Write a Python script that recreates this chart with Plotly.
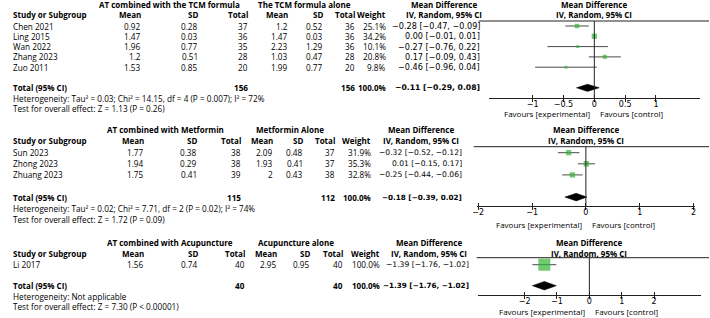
import math
import plotly.graph_objects as go

# ---------------- DATA ----------------
# Panel 1: AT + TCM formula vs TCM formula alone
p1_exp_label = "AT combined with the TCM formula"
p1_ctl_label = "The TCM formula alone"
p1_studies = ["Chen 2021", "Ling 2015", "Wan 2022", "Zhang 2023", "Zuo 2011"]
p1_exp_mean = [0.92, 1.47, 1.96, 1.2, 1.53]
p1_exp_sd = [0.28, 0.03, 0.77, 0.51, 0.85]
p1_exp_n = [37, 36, 35, 28, 20]
p1_ctl_mean = [1.2, 1.47, 2.23, 1.03, 1.99]
p1_ctl_sd = [0.52, 0.03, 1.29, 0.47, 0.77]
p1_ctl_n = [36, 36, 36, 28, 20]
p1_weight = [25.1, 34.2, 10.1, 20.8, 9.8]
p1_md = [-0.28, 0.00, -0.27, 0.17, -0.46]
p1_lo = [-0.47, -0.01, -0.76, -0.09, -0.96]
p1_hi = [-0.09, 0.01, 0.22, 0.43, 0.04]
p1_total_n = [156, 156]
p1_total_md = [-0.11, -0.29, 0.08]
p1_het = "Heterogeneity: Tau² = 0.03; Chi² = 14.15, df = 4 (P = 0.007); I² = 72%"
p1_test = "Test for overall effect: Z = 1.13 (P = 0.26)"
p1_ticks = [-1, -0.5, 0, 0.5, 1]

# Panel 2: AT + Metformin vs Metformin alone
p2_exp_label = "AT combined with Metformin"
p2_ctl_label = "Metformin Alone"
p2_studies = ["Sun 2023", "Zhong 2023", "Zhuang 2023"]
p2_exp_mean = [1.77, 1.94, 1.75]
p2_exp_sd = [0.38, 0.29, 0.41]
p2_exp_n = [38, 38, 39]
p2_ctl_mean = [2.09, 1.93, 2]
p2_ctl_sd = [0.48, 0.41, 0.43]
p2_ctl_n = [37, 37, 38]
p2_weight = [31.9, 35.3, 32.8]
p2_md = [-0.32, 0.01, -0.25]
p2_lo = [-0.52, -0.15, -0.44]
p2_hi = [-0.12, 0.17, -0.06]
p2_total_n = [115, 112]
p2_total_md = [-0.18, -0.39, 0.02]
p2_het = "Heterogeneity: Tau² = 0.02; Chi² = 7.71, df = 2 (P = 0.02); I² = 74%"
p2_test = "Test for overall effect: Z = 1.72 (P = 0.09)"
p2_ticks = [-2, -1, 0, 1, 2]

# Panel 3: AT + Acupuncture vs Acupuncture alone
p3_exp_label = "AT combined with Acupuncture"
p3_ctl_label = "Acupuncture alone"
p3_studies = ["Li 2017"]
p3_exp_mean = [1.56]
p3_exp_sd = [0.74]
p3_exp_n = [40]
p3_ctl_mean = [2.95]
p3_ctl_sd = [0.95]
p3_ctl_n = [40]
p3_weight = [100.0]
p3_md = [-1.39]
p3_lo = [-1.76]
p3_hi = [-1.02]
p3_total_n = [40, 40]
p3_total_md = [-1.39, -1.76, -1.02]
p3_het = "Heterogeneity: Not applicable"
p3_test = "Test for overall effect: Z = 7.30 (P < 0.00001)"
p3_ticks = [-2, -1, 0, 1, 2]

panels = [
    dict(exp_label=p1_exp_label, ctl_label=p1_ctl_label, studies=p1_studies,
         em=p1_exp_mean, es=p1_exp_sd, en=p1_exp_n, cm=p1_ctl_mean, cs=p1_ctl_sd, cn=p1_ctl_n,
         w=p1_weight, md=p1_md, lo=p1_lo, hi=p1_hi, tn=p1_total_n, tmd=p1_total_md,
         het=p1_het, test=p1_test, ticks=p1_ticks),
    dict(exp_label=p2_exp_label, ctl_label=p2_ctl_label, studies=p2_studies,
         em=p2_exp_mean, es=p2_exp_sd, en=p2_exp_n, cm=p2_ctl_mean, cs=p2_ctl_sd, cn=p2_ctl_n,
         w=p2_weight, md=p2_md, lo=p2_lo, hi=p2_hi, tn=p2_total_n, tmd=p2_total_md,
         het=p2_het, test=p2_test, ticks=p2_ticks),
    dict(exp_label=p3_exp_label, ctl_label=p3_ctl_label, studies=p3_studies,
         em=p3_exp_mean, es=p3_exp_sd, en=p3_exp_n, cm=p3_ctl_mean, cs=p3_ctl_sd, cn=p3_ctl_n,
         w=p3_weight, md=p3_md, lo=p3_lo, hi=p3_hi, tn=p3_total_n, tmd=p3_total_md,
         het=p3_het, test=p3_test, ticks=p3_ticks),
]

# ---------------- LAYOUT / STYLE ----------------
W, H = 710, 318
TFONT = "Open Sans"      # words and short numbers
NFONT = "DejaVu Sans"    # effect-size column (wide figures)
TFS = 8.2
BFS = 8.0
TXT = "#000000"
GREEN = "#33b533"

geoms = [
    dict(row0=26.0, dy=10.3, top=0, bot=119, axis_px=98, fav_px=114, line_px=21,
         xl=488, xr=701, half=1.715, line_x0=478,
         cols=[140, 197, 248, 288, 323, 355, 387, 481], ci_fs=8.1,
         hdr_exp=167, hdr_ctl=303, hdr_md=443, k=0.9, dh=3.6),
    dict(row0=152.7, dy=11.1, top=119, bot=230, axis_px=206, fav_px=225, line_px=146.7,
         xl=476, xr=696, half=2.03, line_x0=473,
         cols=[143, 196, 241, 273, 303, 335, 372, 463], ci_fs=7.6,
         hdr_exp=163, hdr_ctl=288, hdr_md=420, k=0.93, dh=3.8),
    dict(row0=264.7, dy=10.5, top=230, bot=318, axis_px=295.3, fav_px=311.3, line_px=257.7,
         xl=477, xr=702, half=3.45, line_x0=476,
         cols=[143, 197, 245, 277, 310, 343, 381, 470], ci_fs=7.6,
         hdr_exp=167, hdr_ctl=294, hdr_md=428, k=1.2, dh=4.3),
]


def num(v):
    return f"{v:g}"


def signed(v):
    s = f"{abs(v):.2f}"
    return ("\u2212" + s) if v < 0 else s


def ci_text(md, lo, hi):
    return f"{signed(md)} [{signed(lo)}, {signed(hi)}]"


fig = go.Figure()
annotations = []
shapes = []
layout_axes = {}


def ann(x, y, text, xanchor="left", xref="paper", yref="paper", bold=False,
        size=None, family=None, xshift=0):
    if bold:
        text = f"<b>{text}</b>"
    if size is None:
        size = BFS if bold else TFS
    annotations.append(dict(x=x, y=y, xref=xref, yref=yref, text=text, showarrow=False,
                            xanchor=xanchor, yanchor="middle", xshift=xshift,
                            font=dict(family=family or TFONT, size=size, color=TXT)))


for i, (p, g) in enumerate(zip(panels, geoms)):
    s = "" if i == 0 else str(i + 1)
    xa, ya = "x" + s, "y" + s
    row0, dy = g["row0"], g["dy"]

    def r(px):
        return (px - row0) / dy

    n = len(p["studies"])
    rows = list(range(n))
    total_row = n + 1
    het_row = n + 2
    test_row = n + 3
    h1, h2 = -2.1, -1.1
    c = g["cols"]

    # header texts
    ann(7 / W, h2, "Study or Subgroup", "left", yref=ya, bold=True)
    ann(g["hdr_exp"] / W, h1, p["exp_label"], "center", yref=ya, bold=True)
    ann(g["hdr_ctl"] / W, h1, p["ctl_label"], "center", yref=ya, bold=True)
    for cx, lab in zip(c[:7], ["Mean", "SD", "Total", "Mean", "SD", "Total", "Weight"]):
        ann(cx / W, h2, lab, "right", yref=ya, bold=True)
    ann(g["hdr_md"] / W, h1, "Mean Difference", "center", yref=ya, bold=True)
    ann(g["hdr_md"] / W, h2, "IV, Random, 95% CI", "center", yref=ya, bold=True)
    pc = (g["xl"] + g["xr"]) / 2 / W
    ann(pc, h1, "Mean Difference", "center", yref=ya, bold=True)
    ann(pc, h2, "IV, Random, 95% CI", "center", yref=ya, bold=True)

    # study rows
    for j in rows:
        ann(7 / W, j, p["studies"][j], "left", yref=ya)
        vals = [num(p["em"][j]), num(p["es"][j]), str(p["en"][j]),
                num(p["cm"][j]), num(p["cs"][j]), str(p["cn"][j]),
                f"{p['w'][j]:.1f}%"]
        for cx, v in zip(c[:7], vals):
            ann(cx / W, j, v, "right", yref=ya)
        ann(c[7] / W, j, ci_text(p["md"][j], p["lo"][j], p["hi"][j]), "right", yref=ya,
            size=g["ci_fs"], family=NFONT)

    # total row
    ann(7 / W, total_row, "Total (95% CI)", "left", yref=ya, bold=True)
    ann(c[2] / W, total_row, str(p["tn"][0]), "right", yref=ya, bold=True, size=8.2)
    ann(c[5] / W, total_row, str(p["tn"][1]), "right", yref=ya, bold=True, size=8.2)
    ann(c[6] / W, total_row, f"{sum(p['w']):.1f}%", "right", yref=ya, bold=True, size=8.0)
    ann(c[7] / W, total_row, ci_text(*p["tmd"]), "right", yref=ya, bold=True,
        size=g["ci_fs"] * 0.95, family=NFONT)
    ann(7 / W, het_row, p["het"], "left", yref=ya)
    ann(7 / W, test_row, p["test"], "left", yref=ya)

    # favours labels
    fy = 1 - g["fav_px"] / H
    ann(0, fy, "Favours [experimental]", "right", xref=xa, xshift=-2, size=8.0)
    ann(0, fy, "Favours [control]", "left", xref=xa, xshift=4, size=8.0)

    # study estimates with CI
    fig.add_trace(go.Scatter(
        x=p["md"], y=rows, xaxis=xa, yaxis=ya, mode="markers",
        marker=dict(symbol="square", color=GREEN,
                    size=[g["k"] * math.sqrt(w) for w in p["w"]], line=dict(width=0)),
        error_x=dict(type="data", symmetric=False,
                     array=[hi - m for hi, m in zip(p["hi"], p["md"])],
                     arrayminus=[m - lo for m, lo in zip(p["md"], p["lo"])],
                     width=0, thickness=1, color="#4a4a4a"),
        showlegend=False, hoverinfo="skip", cliponaxis=False))

    # pooled diamond
    tmd, tlo, thi = p["tmd"]
    hh = g["dh"] / dy
    fig.add_trace(go.Scatter(
        x=[tlo, tmd, thi, tmd, tlo],
        y=[total_row, total_row - hh, total_row, total_row + hh, total_row],
        xaxis=xa, yaxis=ya, mode="lines", fill="toself", fillcolor="black",
        line=dict(color="black", width=0.5), showlegend=False, hoverinfo="skip"))

    # twin axis for upward ticks
    tw = "x" + str(4 + i)
    fig.add_trace(go.Scatter(x=[None], y=[None], xaxis=tw, yaxis=ya, showlegend=False,
                             hoverinfo="skip"))

    # header rule and zero line
    shapes.append(dict(type="line", xref="paper", yref=ya, x0=g["line_x0"] / W, x1=1,
                       y0=r(g["line_px"]), y1=r(g["line_px"]),
                       line=dict(color="#222", width=1)))
    shapes.append(dict(type="line", xref=xa, yref=ya, x0=0, x1=0,
                       y0=r(g["line_px"]), y1=r(g["axis_px"]),
                       line=dict(color="#222", width=1)))

    pos = 1 - g["axis_px"] / H
    key = "xaxis" if i == 0 else f"xaxis{i + 1}"
    layout_axes[key] = dict(
        domain=[g["xl"] / W, g["xr"] / W], range=[-g["half"], g["half"]],
        anchor="free", position=pos, showline=True, linecolor="#222", linewidth=1,
        ticks="outside", ticklen=3, tickwidth=1, tickcolor="#222",
        tickmode="array", tickvals=p["ticks"], ticklabelstandoff=-5,
        tickfont=dict(family=NFONT, size=8.0, color=TXT),
        showgrid=False, zeroline=False, fixedrange=True)
    layout_axes[f"xaxis{4 + i}"] = dict(
        overlaying=xa, range=[-g["half"], g["half"]], anchor="free", position=pos,
        side="top", ticks="outside", ticklen=3, tickwidth=1, tickcolor="#222",
        tickmode="array", tickvals=p["ticks"], showticklabels=False, showline=False,
        showgrid=False, zeroline=False, fixedrange=True)
    ykey = "yaxis" if i == 0 else f"yaxis{i + 1}"
    layout_axes[ykey] = dict(
        domain=[1 - g["bot"] / H, 1 - g["top"] / H],
        range=[r(g["bot"]), r(g["top"])], visible=False, fixedrange=True,
        anchor=xa)

fig.update_layout(
    width=W, height=H, margin=dict(l=0, r=0, t=0, b=0),
    paper_bgcolor="white", plot_bgcolor="rgba(0,0,0,0)",
    showlegend=False, annotations=annotations, shapes=shapes,
    font=dict(family=TFONT, size=TFS, color=TXT),
    **layout_axes)

fig.write_html("out.html", include_plotlyjs=True, config=dict(displayModeBar=False))
